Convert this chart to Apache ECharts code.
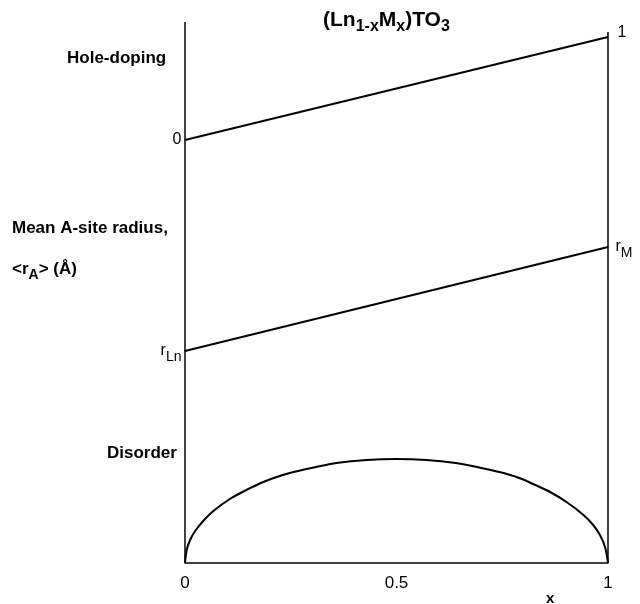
<!DOCTYPE html>
<html style="height: 100%">
   <head>
       <meta charset="utf-8">
   </head>
   <body style="height: 100%; margin: 0; background: #fff">
       <div id="container" style="width: 640px; height: 604px"></div>
       <script type="text/javascript" src="https://cdn.jsdelivr.net/npm/echarts@6/dist/echarts.min.js"></script>
       <script type="text/javascript">
var dom = document.getElementById("container");
var myChart = echarts.init(dom);

// x positions of the schematic (fraction M)
var xTicks = [0, 0.5, 1];

// hole-doping line (arbitrary vertical units)
var holeDoping = [[0, 423], [1, 526]];

// mean A-site radius line
var meanRadius = [[0, 212], [1, 316]];

// disorder curve, read point by point
var disorder = [
    [0, 0], [0.004, 13], [0.012, 23], [0.024, 32], [0.043, 42], [0.067, 52],
    [0.106, 64], [0.145, 73], [0.185, 81], [0.224, 87], [0.267, 92], [0.31, 96],
    [0.358, 100], [0.43, 103], [0.5, 104], [0.57, 103], [0.64, 100], [0.69, 96],
    [0.743, 91], [0.784, 86], [0.823, 79], [0.863, 71], [0.902, 61], [0.942, 48],
    [0.965, 38], [0.981, 28], [0.993, 16], [1, 0]
];

// the two vertical frame lines
var leftEdge = [[0, 0], [0, 541]];
var rightEdge = [[1, 0], [1, 531]];

var font = 'Liberation Sans, Arial, sans-serif';
var black = '#000';

function endLabel(text, pos, offset) {
    return {
        show: true,
        position: pos,
        distance: 3,
        offset: offset,
        formatter: text,
        color: black,
        fontFamily: font,
        fontSize: 16,
        rich: {
            r: {fontSize: 16, fontFamily: font, color: black},
            s: {fontSize: 14, fontFamily: font, color: black, padding: [13, 0, 0, 0]}
        }
    };
}

function bold(size) {
    return {fontFamily: font, fontWeight: 'bold', fontSize: size, color: black};
}

var option = {
    backgroundColor: '#fff',
    animation: false,
    title: [
        {
            text: '{b|(Ln}{s|1-x}{b|M}{s|x}{b|)TO}{s|3}',
            left: 323, top: 5, padding: 0,
            textStyle: {
                rich: {
                    b: bold(21),
                    s: Object.assign(bold(16), {padding: [14, 0, 0, 0]})
                }
            }
        },
        {text: 'Hole-doping', left: 67, top: 50, padding: 0, textStyle: bold(17)},
        {text: 'Mean A-site radius,', left: 12, top: 220, padding: 0, textStyle: bold(17)},
        {
            text: '{b|<r}{s|A}{b|> (Å)}',
            left: 12, top: 256, padding: 0,
            textStyle: {
                rich: {
                    b: bold(17),
                    s: Object.assign(bold(14), {padding: [12, 0, 0, 0]})
                }
            }
        },
        {text: 'Disorder', left: 107, top: 445, padding: 0, textStyle: bold(17)},
        {text: 'x', left: 546, top: 591, padding: 0, textStyle: bold(15)}
    ],
    grid: {left: 185, right: 32, top: 22, bottom: 41},
    xAxis: {
        type: 'value',
        min: 0,
        max: 1,
        interval: 0.5,
        splitLine: {show: false},
        axisTick: {show: false},
        axisLine: {lineStyle: {color: black, width: 1.5}},
        axisLabel: {
            color: black, fontFamily: font, fontSize: 17, margin: 12,
            formatter: function (v) {
                return xTicks.indexOf(v) >= 0 ? String(v) : '';
            }
        }
    },
    yAxis: {
        type: 'value',
        min: 0,
        max: 541,
        show: false
    },
    series: [
        {
            type: 'line', data: leftEdge, symbol: 'none', silent: true,
            lineStyle: {color: black, width: 1.5}
        },
        {
            type: 'line', data: rightEdge, symbol: 'none', silent: true,
            lineStyle: {color: black, width: 1.5}
        },
        {
            type: 'line', symbol: 'circle', symbolSize: 1, showSymbol: true,
            itemStyle: {color: black},
            lineStyle: {color: black, width: 2},
            data: [
                {value: holeDoping[0], label: endLabel('0', 'left', [0, 0])},
                {value: holeDoping[1], label: endLabel('1', 'right', [6, -4])}
            ]
        },
        {
            type: 'line', symbol: 'circle', symbolSize: 1, showSymbol: true,
            itemStyle: {color: black},
            lineStyle: {color: black, width: 2},
            data: [
                {value: meanRadius[0], label: endLabel('{r|r}{s|Ln}', 'left', [0, 0])},
                {value: meanRadius[1], label: endLabel('{r|r}{s|M}', 'right', [4, 0])}
            ]
        },
        {
            type: 'line', symbol: 'none', smooth: 0.3,
            lineStyle: {color: black, width: 2},
            data: disorder
        }
    ]
};
myChart.setOption(option, true);
       </script>
   </body>
</html>
